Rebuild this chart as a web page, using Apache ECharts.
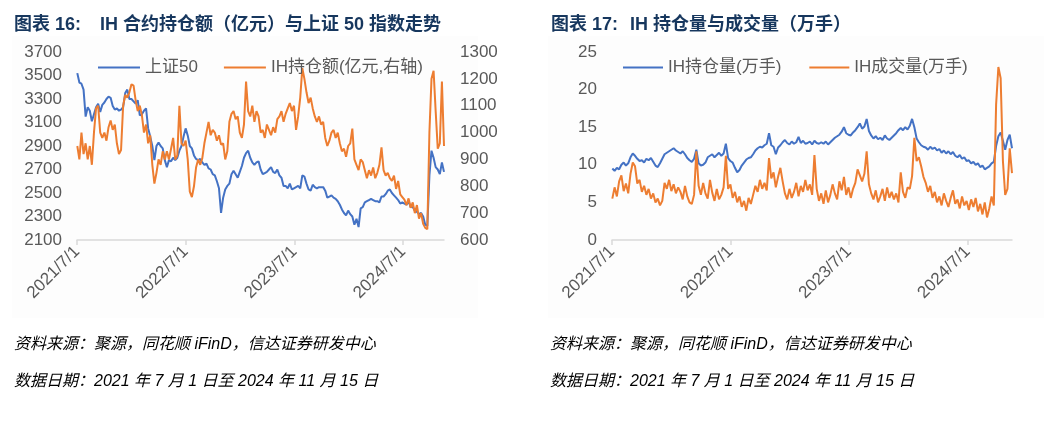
<!DOCTYPE html>
<html><head><meta charset="utf-8">
<script src="https://cdn.jsdelivr.net/npm/echarts@6/dist/echarts.min.js"></script>
<style>html,body{margin:0;padding:0;background:#fff}#c{width:1057px;height:421px}</style>
</head><body><div id="c"></div><script>
// weekly sample dates (Fridays)
const dates = [
'2021-07-02','2021-07-09','2021-07-16','2021-07-23','2021-07-30','2021-08-06','2021-08-13','2021-08-20','2021-08-27','2021-09-03','2021-09-10','2021-09-17','2021-09-24','2021-10-01','2021-10-08','2021-10-15','2021-10-22','2021-10-29','2021-11-05','2021-11-12','2021-11-19','2021-11-26','2021-12-03','2021-12-10','2021-12-17','2021-12-24','2021-12-31',
'2022-01-07','2022-01-14','2022-01-21','2022-01-28','2022-02-04','2022-02-11','2022-02-18','2022-02-25','2022-03-04','2022-03-11','2022-03-18','2022-03-25','2022-04-01','2022-04-08','2022-04-15','2022-04-22','2022-04-29','2022-05-06','2022-05-13','2022-05-20','2022-05-27','2022-06-03','2022-06-10','2022-06-17','2022-06-24','2022-07-01','2022-07-08','2022-07-15','2022-07-22','2022-07-29','2022-08-05','2022-08-12','2022-08-19','2022-08-26','2022-09-02','2022-09-09','2022-09-16','2022-09-23','2022-09-30','2022-10-07','2022-10-14','2022-10-21','2022-10-28','2022-11-04','2022-11-11','2022-11-18','2022-11-25','2022-12-02','2022-12-09','2022-12-16','2022-12-23','2022-12-30',
'2023-01-06','2023-01-13','2023-01-20','2023-01-27','2023-02-03','2023-02-10','2023-02-17','2023-02-24','2023-03-03','2023-03-10','2023-03-17','2023-03-24','2023-03-31','2023-04-07','2023-04-14','2023-04-21','2023-04-28','2023-05-05','2023-05-12','2023-05-19','2023-05-26','2023-06-02','2023-06-09','2023-06-16','2023-06-23','2023-06-30','2023-07-07','2023-07-14','2023-07-21','2023-07-28','2023-08-04','2023-08-11','2023-08-18','2023-08-25','2023-09-01','2023-09-08','2023-09-15','2023-09-22','2023-09-29','2023-10-06','2023-10-13','2023-10-20','2023-10-27','2023-11-03','2023-11-10','2023-11-17','2023-11-24','2023-12-01','2023-12-08','2023-12-15','2023-12-22','2023-12-29',
'2024-01-05','2024-01-12','2024-01-19','2024-01-26','2024-02-02','2024-02-09','2024-02-16','2024-02-23','2024-03-01','2024-03-08','2024-03-15','2024-03-22','2024-03-29','2024-04-05','2024-04-12','2024-04-19','2024-04-26','2024-05-03','2024-05-10','2024-05-17','2024-05-24','2024-05-31','2024-06-07','2024-06-14','2024-06-21','2024-06-28','2024-07-05','2024-07-12','2024-07-19','2024-07-26','2024-08-02','2024-08-09','2024-08-16','2024-08-23','2024-08-30','2024-09-06','2024-09-13','2024-09-20','2024-09-27','2024-10-04','2024-10-11','2024-10-18','2024-10-25','2024-11-01','2024-11-08','2024-11-15'
];
// 上证50
const sz50 = [
3520,3440,3430,3380,3150, 3230,3200,3110,3170, 3230,3260,3190,3250, 3270,3300,3320,3310,3240, 3210,3220,3200,3210, 3230,3350,3380,3300,3300,
3280,3260,3290,3160, 3170,3200,3220,3050, 2980,2900,2780,2900, 2930,2900,2880,2780,2720, 2780,2770,2800,2780, 2800,2860,2900,2980, 3050,2990,2900,2880,2820, 2790,2780,2790,2760, 2740,2750,2710,2700,2660, 2650,2600,2540,2330, 2460,2530,2560,2580, 2660,2690,2660,2630,2680,
2730,2800,2840,2860, 2800,2760,2740,2760, 2770,2700,2660,2670,2680, 2700,2720,2680,2670, 2700,2650,2630,2560, 2560,2540,2580,2530,2540, 2550,2560,2540,2650, 2640,2580,2530,2520, 2570,2550,2540,2550,2550, 2550,2520,2460,2470, 2480,2460,2450,2430, 2400,2360,2330,2310,2350,
2320,2300,2230,2280, 2210,2370,2380,2420, 2430,2440,2450,2440,2430, 2430,2420,2470,2470, 2490,2520,2530,2500,2480, 2460,2440,2410,2420, 2410,2400,2430,2380, 2380,2350,2340,2320,2330, 2300,2230,2220,2650, 2860,2800,2720,2700, 2660,2760,2680
];
// IH持仓额(亿元)
const ihAmount = [
950,900,1000,920,960, 900,950,880,1000, 1090,1100,1000,980, 1000,970,1020,1045,1010, 1030,960,920,935, 1100,1140,1130,1150,1180,
1175,1120,1080,1100, 1065,1000,1030,960, 990,880,810,850, 900,880,930,900,930, 900,940,980,900, 915,1100,960,950, 970,900,780,760,800, 870,900,880,905, 960,1000,1040,990,1010, 1000,970,990,955, 960,900,930,1040, 1070,1080,1050,1060,1000,
980,1030,1190,1080, 1060,1100,1040,1080, 1060,1000,1010,980,1030, 1010,990,1020,1000, 1050,1060,1080,1040, 1070,1090,1110,1080,1100, 1010,1060,1130,1240, 1200,1150,1110,1130, 1090,1060,1040,1060,1030, 1040,980,950,970, 1000,1010,980,1000, 960,930,940,910,950,
960,1015,900,880, 860,900,890,860, 830,860,840,870,830, 850,880,945,860, 840,850,830,820,840, 790,820,770,760, 750,730,755,720, 740,700,730,680,700, 660,645,640,1000, 1200,1230,1080,940, 960,1190,950
];
// IH持仓量(万手)
const ihOI = [
9.5,9.2,9.6,9.4,10.0, 10.3,9.9,10.2,11.0, 11.5,11.2,10.8,10.5, 10.6,10.3,10.8,10.6,10.9, 10.4,9.9,9.7,10.2, 10.8,11.4,11.6,11.8,12.0,
12.2,11.9,11.7,11.5, 11.8,11.4,10.9,10.6, 10.4,10.8,12.0,10.2, 9.9,10.0,10.3,11.0,11.2, 11.4,11.0,11.3,11.6, 11.2,11.5,12.8,10.9, 10.5,10.3,9.6,9.0,9.3, 9.9,10.3,10.7,10.9, 11.0,11.4,11.9,12.2,12.4, 12.3,12.6,12.8,14.2, 12.6,12.4,11.4,12.3, 12.6,13.0,13.3,12.9,12.7,
13.1,12.8,13.0,13.7, 12.9,13.2,12.8,12.9, 13.1,12.7,13.2,12.9,12.8, 13.0,12.8,13.1,12.7, 13.0,13.3,13.6,13.8, 14.0,14.4,15.0,14.2,14.0, 13.9,14.3,14.6,15.0, 15.5,14.8,15.1,16.1, 14.5,13.9,13.5,13.8,13.4, 13.6,13.3,13.9,13.5, 13.3,13.6,13.9,14.2, 14.6,14.9,14.6,15.0,14.7,
15.2,16.1,15.0,13.5, 13.0,12.6,12.4,12.3, 12.0,12.4,12.1,12.3,11.9, 12.1,11.6,11.9,11.5, 11.8,11.4,11.7,11.2,11.0, 11.3,10.8,11.0,10.5, 10.6,10.2,10.4,10.0, 10.2,9.7,9.9,9.4,9.6, 9.8,10.2,10.4,12.5, 13.8,14.3,13.2,12.0, 13.3,14.0,12.2
];
// IH成交量(万手)
const ihVol = [
5.5,7.0,5.8,7.8,8.6, 6.5,7.5,6.2,8.8, 10.3,9.8,7.5,8.0, 6.4,7.2,6.0,6.8,5.5, 6.2,5.0,5.5,4.6, 5.2,7.6,6.8,8.0,6.5,
7.4,6.2,7.0,6.4, 5.4,7.2,5.8,5.0, 4.8,6.0,11.8,7.2, 6.0,7.6,6.2,5.5,8.0, 6.3,5.2,6.8,5.4, 6.0,7.0,11.2,6.8, 7.4,5.6,6.4,5.0,5.8, 4.4,5.2,3.9,5.6, 4.8,6.0,7.2,6.4,8.0, 6.8,7.6,6.6,10.9, 8.2,9.0,7.0,8.4, 9.6,7.8,6.2,5.4,6.8,
5.6,6.4,7.6,5.8, 7.2,6.4,8.0,6.6, 7.4,6.0,11.3,6.8,5.2, 6.2,4.8,6.6,5.0, 6.0,7.4,6.2,5.4, 7.8,6.6,8.4,6.0,7.0, 5.6,6.8,7.6,9.4, 8.6,7.8,8.8,11.8, 7.4,6.2,5.4,6.6,5.0, 5.8,6.8,5.2,7.0, 5.6,6.4,5.4,6.2, 5.0,9.0,6.4,5.6,7.0,
6.8,8.5,13.6,10.5, 11.0,9.8,8.4,7.6, 6.4,7.2,5.6,6.4,5.0, 5.8,4.6,6.2,5.2, 4.4,5.6,6.6,4.8,5.4, 4.2,5.8,4.6,5.2, 4.0,5.4,4.4,5.6, 3.8,4.8,3.4,5.0,3.0, 4.2,5.8,4.6,18.0, 23.0,21.5,10.5,6.0, 6.8,12.2,8.9
];
const xTickDates = ['2021-07-01','2022-07-01','2023-07-01','2024-07-01'];
const xRange = ['2021-07-01','2024-11-15'];
const leftTicks = [2100,2300,2500,2700,2900,3100,3300,3500,3700];

function ts(s){const p=s.split('-').map(Number);return new Date(p[0],p[1]-1,p[2]).getTime();}
function pairs(v){return dates.map((d,i)=>[ts(d),v[i]]);}
const FONT='"Liberation Sans","Noto Sans CJK SC",sans-serif';
const CJK='"Liberation Sans","Noto Sans CJK SC",sans-serif';
const GRAY='#595959', AX='#d9d9d9', BLUE='#4472C4', ORANGE='#ED7D31', NAVY='#17375E';
const plain=function(v){return String(v);};
const lab={color:GRAY,fontSize:17,fontFamily:FONT};
function xAxisCfg(gi){
  const cv=xTickDates.map(ts);
  return {type:'value',gridIndex:gi,min:ts(xRange[0]),max:ts(xRange[1]),scale:true,
    axisLine:{show:true,lineStyle:{color:AX,width:1.5}},
    axisTick:{show:true,length:5,lineStyle:{color:AX,width:1.5},customValues:cv},
    splitLine:{show:false},
    axisLabel:Object.assign({},lab,{rotate:45,margin:9,customValues:cv,
      formatter:function(v){const d=new Date(v);return d.getFullYear()+'/'+(d.getMonth()+1)+'/'+d.getDate();}})};
}
const chart=echarts.init(document.getElementById('c'),null,{renderer:'canvas'});
const legendText={color:GRAY,fontSize:17,fontFamily:CJK};
chart.setOption({
  animation:false,
  backgroundColor:'#ffffff',
  grid:[{left:77,top:52,width:367,height:188,containLabel:false},{left:612,top:52,width:400,height:188,containLabel:false}],
  xAxis:[xAxisCfg(0),xAxisCfg(1)],
  yAxis:[
    {type:'value',gridIndex:0,min:2100,max:3700,axisLine:{show:false},axisTick:{show:false},splitLine:{show:false},
      axisLabel:Object.assign({},lab,{margin:15,customValues:leftTicks,formatter:plain})},
    {type:'value',gridIndex:0,position:'right',min:600,max:1300,interval:100,axisLine:{show:false},axisTick:{show:false},splitLine:{show:false},
      axisLabel:Object.assign({},lab,{margin:16,formatter:plain})},
    {type:'value',gridIndex:1,min:0,max:25,interval:5,axisLine:{show:false},axisTick:{show:false},splitLine:{show:false},
      axisLabel:Object.assign({},lab,{margin:15,formatter:plain})}
  ],
  legend:[
    {data:['上证50','IH持仓额(亿元,右轴)'],left:93,top:54,icon:'rect',itemWidth:42,itemHeight:2,itemGap:26,textStyle:legendText},
    {data:['IH持仓量(万手)','IH成交量(万手)'],left:618,top:54,icon:'rect',itemWidth:40,itemHeight:2,itemGap:28,textStyle:legendText}
  ],
  series:[
    {name:'上证50',type:'line',xAxisIndex:0,yAxisIndex:0,data:pairs(sz50),showSymbol:false,lineStyle:{width:2,color:BLUE},itemStyle:{color:BLUE}},
    {name:'IH持仓额(亿元,右轴)',type:'line',xAxisIndex:0,yAxisIndex:1,data:pairs(ihAmount),showSymbol:false,lineStyle:{width:2,color:ORANGE},itemStyle:{color:ORANGE}},
    {name:'IH持仓量(万手)',type:'line',xAxisIndex:1,yAxisIndex:2,data:pairs(ihOI),showSymbol:false,lineStyle:{width:2,color:BLUE},itemStyle:{color:BLUE}},
    {name:'IH成交量(万手)',type:'line',xAxisIndex:1,yAxisIndex:2,data:pairs(ihVol),showSymbol:false,lineStyle:{width:2,color:ORANGE},itemStyle:{color:ORANGE}}
  ],
  graphic:[
    {type:'rect',z:-100,silent:true,shape:{x:12,y:36,width:466,height:282},style:{fill:'#fdfdfd'}},
    {type:'rect',z:-100,silent:true,shape:{x:548,y:36,width:496,height:282},style:{fill:'#fdfdfd'}},
    {type:'text',x:14,y:25,style:{text:'图表 16:',font:'bold 18px '+CJK,fill:NAVY,verticalAlign:'middle'}},
    {type:'text',x:100,y:25,style:{text:'IH 合约持仓额（亿元）与上证 50 指数走势',font:'bold 18px '+CJK,fill:NAVY,verticalAlign:'middle'}},
    {type:'text',x:551,y:25,style:{text:'图表 17:',font:'bold 18px '+CJK,fill:NAVY,verticalAlign:'middle'}},
    {type:'text',x:630,y:25,style:{text:'IH 持仓量与成交量（万手）',font:'bold 18px '+CJK,fill:NAVY,verticalAlign:'middle'}},
    {type:'text',x:14,y:345,style:{text:'资料来源：聚源，同花顺 iFinD，信达证券研发中心',font:'italic 16px '+CJK,fill:'#000',verticalAlign:'middle'}},
    {type:'text',x:14,y:382,style:{text:'数据日期：2021 年 7 月 1 日至 2024 年 11 月 15 日',font:'italic 16px '+CJK,fill:'#000',verticalAlign:'middle'}},
    {type:'text',x:550,y:345,style:{text:'资料来源：聚源，同花顺 iFinD，信达证券研发中心',font:'italic 16px '+CJK,fill:'#000',verticalAlign:'middle'}},
    {type:'text',x:550,y:382,style:{text:'数据日期：2021 年 7 月 1 日至 2024 年 11 月 15 日',font:'italic 16px '+CJK,fill:'#000',verticalAlign:'middle'}}
  ]
});
</script></body></html>
